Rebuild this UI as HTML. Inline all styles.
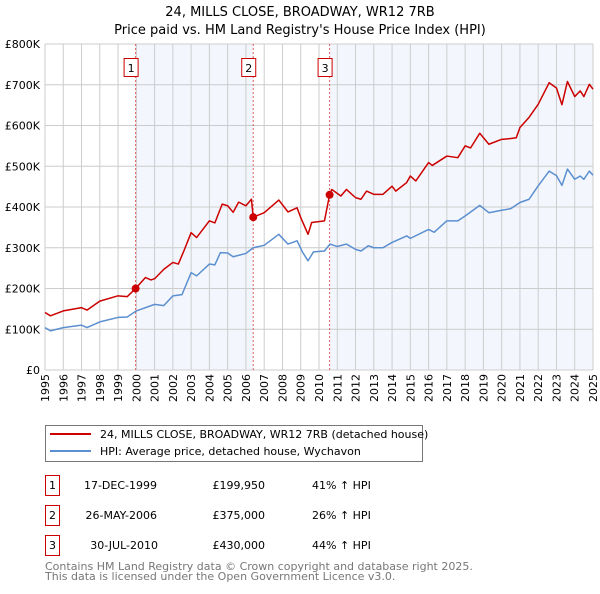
<!DOCTYPE html>
<html><head><meta charset="utf-8"><style>
body{margin:0;background:#fff;width:600px;height:590px;overflow:hidden;font-family:"DejaVu Sans","Liberation Sans",sans-serif;}
svg text{font-family:"DejaVu Sans","Liberation Sans",sans-serif;}
</style></head><body>
<svg id="c" width="600" height="590">
<text x="300" y="16" text-anchor="middle" font-size="13">24, MILLS CLOSE, BROADWAY, WR12 7RB</text>
<text x="300" y="34" text-anchor="middle" font-size="13">Price paid vs. HM Land Registry's House Price Index (HPI)</text>
<g id="plot"></g>
<g>
<rect x="45.5" y="425.5" width="377" height="36" fill="#fff" stroke="#777"/>
<line x1="50" y1="434" x2="91" y2="434" stroke="#cc0000" stroke-width="2"/>
<text x="100" y="438" font-size="11">24, MILLS CLOSE, BROADWAY, WR12 7RB (detached house)</text>
<line x1="50" y1="451" x2="91" y2="451" stroke="#5b8fd0" stroke-width="2"/>
<text x="100" y="455" font-size="11">HPI: Average price, detached house, Wychavon</text>
</g>
<g font-size="11">
<rect x="45.5" y="475.5" width="14" height="20" fill="#fff" stroke="#cc0000"/><text x="52.5" y="489" text-anchor="middle">1</text>
<text x="157" y="489" text-anchor="end">17-DEC-1999</text><text x="265" y="489" text-anchor="end">£199,950</text><text x="312" y="489">41% ↑ HPI</text>
<rect x="45.5" y="505.5" width="14" height="20" fill="#fff" stroke="#cc0000"/><text x="52.5" y="519" text-anchor="middle">2</text>
<text x="157" y="519" text-anchor="end">26-MAY-2006</text><text x="265" y="519" text-anchor="end">£375,000</text><text x="312" y="519">26% ↑ HPI</text>
<rect x="45.5" y="535.5" width="14" height="20" fill="#fff" stroke="#cc0000"/><text x="52.5" y="549" text-anchor="middle">3</text>
<text x="158" y="549" text-anchor="end">30-JUL-2010</text><text x="265" y="549" text-anchor="end">£430,000</text><text x="312" y="549">44% ↑ HPI</text>
</g>
<text x="45" y="570" font-size="11" fill="#777">Contains HM Land Registry data © Crown copyright and database right 2025.</text>
<text x="45" y="580" font-size="11" fill="#777">This data is licensed under the Open Government Licence v3.0.</text>
</svg>
<script>
const yTicks=[0,100,200,300,400,500,600,700,800];
const yTickLabels=["£0","£100K","£200K","£300K","£400K","£500K","£600K","£700K","£800K"];
const years=[1995,1996,1997,1998,1999,2000,2001,2002,2003,2004,2005,2006,2007,2008,2009,2010,2011,2012,2013,2014,2015,2016,2017,2018,2019,2020,2021,2022,2023,2024,2025];
const hpiT=[1995,1995.3,1996,1997,1997.3,1998,1999,1999.5,2000,2001,2001.5,2002,2002.5,2003,2003.3,2004,2004.3,2004.6,2005,2005.3,2006,2006.4,2007,2007.8,2008.3,2008.8,2009.1,2009.4,2009.7,2010.3,2010.6,2011,2011.5,2012,2012.3,2012.7,2013,2013.5,2014,2014.8,2015,2016,2016.3,2017,2017.6,2018,2018.8,2019.3,2020,2020.5,2021,2021.5,2022,2022.6,2023,2023.3,2023.6,2024,2024.3,2024.5,2024.8,2025];
const hpiV=[104,96,104,110,104,118,129,130,145,161,158,182,185,239,231,260,258,288,287,278,286,300,306,333,309,317,289,268,290,292,309,303,309,296,292,305,300,300,313,329,323,345,338,366,366,378,404,386,392,396,411,419,452,488,477,453,493,468,476,468,488,478];
const redT=[1995,1995.3,1996,1997,1997.3,1998,1999,1999.5,1999.96,2000.5,2000.8,2001,2001.5,2002,2002.3,2002.6,2003,2003.3,2004,2004.3,2004.7,2005,2005.3,2005.6,2006,2006.3,2006.4,2007,2007.8,2008.3,2008.8,2009,2009.4,2009.6,2010.3,2010.58,2010.7,2011.2,2011.5,2012,2012.3,2012.6,2013,2013.5,2014,2014.2,2014.8,2015,2015.3,2016,2016.2,2017,2017.6,2018,2018.3,2018.8,2019.3,2020,2020.5,2020.8,2021,2021.5,2022,2022.6,2023,2023.3,2023.6,2024,2024.3,2024.5,2024.8,2025];
const redV=[141,133,145,153,147,169,182,180,200,227,221,224,247,264,260,292,337,325,366,361,407,403,387,412,403,419,375,386,417,388,398,374,333,362,366,430,443,427,443,423,419,439,431,431,451,439,460,476,464,509,502,525,521,550,545,581,554,566,568,570,595,620,652,705,692,651,708,671,685,671,701,689];
const saleT=[1999.96,2006.4,2010.58];
const saleV=[199.95,375,430];
const saleLabels=["1","2","3"];
const X0=45,X1=593,Y0=370,Y1=44;
const xs=t=>X0+(t-1995)/30*(X1-X0);
const ys=v=>Y0-v/800*(Y0-Y1);
const NS="http://www.w3.org/2000/svg";
const g=document.getElementById('plot');
function mk(tag,attrs,parent){const e=document.createElementNS(NS,tag);for(const k in attrs)e.setAttribute(k,attrs[k]);(parent||g).appendChild(e);return e;}
let r=mk('rect',{x:xs(saleT[0]),y:Y1,width:xs(saleT[1])-xs(saleT[0]),height:Y0-Y1,fill:'#eef3fc',opacity:0.7});


r=mk('rect',{x:xs(saleT[2]),y:Y1,width:X1-xs(saleT[2]),height:Y0-Y1,fill:'#eef3fc',opacity:0.7});


years.forEach(y=>{const l=mk('line',{x1:xs(y),x2:xs(y),y1:Y1,y2:Y0,stroke:'#ccc','stroke-width':1});


const t=mk('text',{x:0,y:0,'font-size':11,'text-anchor':'end',transform:`translate(${xs(y)+4},${Y0+4}) rotate(-90)`});t.textContent=y;

});
yTicks.forEach((v,i)=>{const l=mk('line',{x1:X0,x2:X1,y1:ys(v),y2:ys(v),stroke:'#ccc','stroke-width':1});


const t=mk('text',{x:40,y:ys(v)+4,'font-size':11,'text-anchor':'end'});t.textContent=yTickLabels[i];

});
saleT.forEach((s,i)=>{const l=mk('line',{x1:xs(s),x2:xs(s),y1:Y1,y2:Y0,stroke:'#e06060','stroke-width':1,'stroke-dasharray':'2,2'});


const b=mk('rect',{x:xs(s)-11.5,y:58.5,width:14,height:18,fill:'#fff',stroke:'#cc0000'});


const t=mk('text',{x:xs(s)-4.5,y:72,'font-size':11,'text-anchor':'middle'});t.textContent=saleLabels[i];

});
const line=(T,V,c,name)=>{const p=mk('polyline',{points:T.map((t,i)=>xs(t)+','+ys(V[i])).join(' '),fill:'none',stroke:c,'stroke-width':1.5,'stroke-linejoin':'round'});

};
line(hpiT,hpiV,'#5b8fd0','hpi-line');
line(redT,redV,'#cc0000','property-line');
saleT.forEach((s,i)=>{const c=mk('circle',{cx:xs(s),cy:ys(saleV[i]),r:4,fill:'#cc0000'});

});
</script>
</body></html>
